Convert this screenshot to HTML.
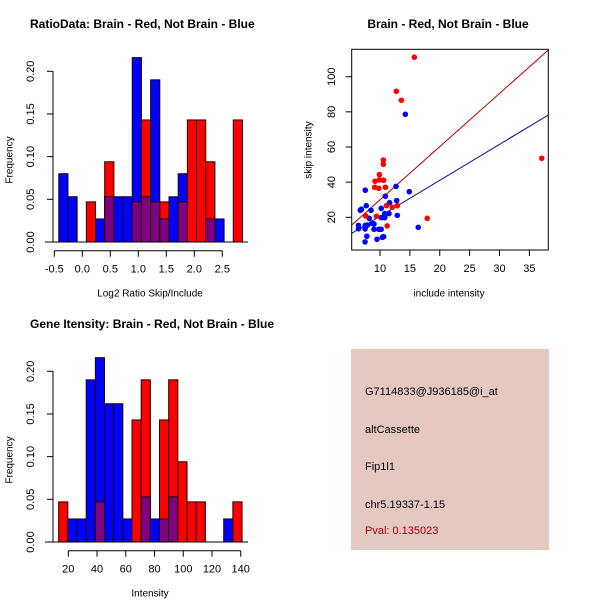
<!DOCTYPE html>
<html><head><meta charset="utf-8"><style>
html,body{margin:0;padding:0;background:#fff}
svg{display:block;font-family:"Liberation Sans",sans-serif}
</style></head><body>
<svg id="c" width="600" height="600" viewBox="0 0 600 600" xmlns="http://www.w3.org/2000/svg"></svg>
<script>
// ---- Top-left histogram: log2 ratio ----
const ratioBinStart = -0.42;
const ratioBinWidth = 0.164;
const ratioBlue = [0.08,0.053,0,0,0.027,0.053,0.053,0.053,0.216,0.053,0.19,0.027,0.053,0.08,0,0,0.027,0.027,0,0];
const ratioRed  = [0,0,0,0.047,0,0.094,0,0,0.047,0.143,0.047,0.047,0,0.047,0.143,0.143,0.094,0,0,0.143];
const ratioTicks = [-0.5,0.0,0.5,1.0,1.5,2.0,2.5];
const ratioTickLabels = ["-0.5","0.0","0.5","1.0","1.5","2.0","2.5"];
const freqTicks = [0,0.05,0.10,0.15,0.20];
const freqTickLabels = ["0.00","0.05","0.10","0.15","0.20"];

// ---- Bottom-left histogram: intensity ----
const intBinStart = 13.3;
const intBinWidth = 6.38;
const intBlue = [0,0.027,0.027,0.19,0.216,0.162,0.162,0.027,0,0.053,0.027,0.027,0.053,0,0,0,0,0,0.027,0];
const intRed  = [0.047,0,0,0,0.047,0,0,0,0.143,0.19,0,0.143,0.19,0.094,0.047,0.047,0,0,0,0.047];
const intTicks = [20,40,60,80,100,120,140];
const intTickLabels = ["20","40","60","80","100","120","140"];

// ---- Scatter ----
const redX = [15.75,12.73,13.57,37.07,10.56,10.56,9.9,9.16,9.9,10.6,9.1,9.8,10.9,7.6,9.4,11.06,12.06,12.9,11.2,17.9];
const redY = [111.1,91.7,86.6,53.6,52.6,50.2,44.3,40.5,41.3,41.1,37.1,36.5,37.1,20.8,20.6,26.6,25.7,26.6,15.1,19.4];
const blueX = [14.24,7.54,12.68,14.9,10.9,6.7,6.9,7.7,8.5,11.6,12.8,10.2,10.8,11.5,12.9,8.2,10.2,10.8,8.66,9.0,6.4,6.4,7.54,7.9,7.5,9.0,9.8,10.2,16.4,7.8,10.4,10.6,9.5,7.5];
const blueY = [78.6,35.4,37.6,34.6,32,24,24.6,26.6,24,28.3,29.5,25.1,22.1,22.1,21.1,19.4,19.8,19.8,16.6,16.2,15.4,13.5,15.4,15.6,13.4,13.2,13.2,13.2,14.3,9.2,8.6,9.0,7.5,6.0];
const redFit = [-0.32, 3.026];   // intercept, slope
const blueFit = [0.14, 2.045];
const scXTicks = [10,15,20,25,30,35];
const scYTicks = [20,40,60,80,100];

const NS="http://www.w3.org/2000/svg";
const svg=document.getElementById('c');
function el(tag,attrs,parent){const e=document.createElementNS(NS,tag);for(const k in attrs)e.setAttribute(k,attrs[k]);(parent||svg).appendChild(e);return e;}
function txt(x,y,s,attrs,parent){const t=el('text',Object.assign({x:x,y:y,'font-size':11,fill:'#000','text-anchor':'middle','dominant-baseline':'central'},attrs||{}),parent);t.textContent=s;return t;}

function hist(g, x0, yBase, yTop, binStart, binWidth, pxPerUnit, xTickAxis, blue, red, ticks, tickLabels, title, xlabel, gy){
  const fy=v=>yBase-(v/0.20)*(yBase-yTop);
  const fx=v=>x0+(v-xTickAxis)*pxPerUnit;
  const t=txt(30,gy+24,title,{'font-weight':'bold','font-size':12,'text-anchor':'start'},g);
  
  
  for(let i=0;i<blue.length;i++){
    const a=fx(binStart+i*binWidth), b=fx(binStart+(i+1)*binWidth);
    if(blue[i]>0){const r=el('rect',{x:a,y:fy(blue[i]),width:b-a,height:yBase-fy(blue[i]),fill:'#0000ff',stroke:'#200000','stroke-width':1},g);
      
      }
    if(red[i]>0){const r=el('rect',{x:a,y:fy(red[i]),width:b-a,height:yBase-fy(red[i]),fill:'#ff0000',stroke:'#200000','stroke-width':1},g);
      
      }
    const m=Math.min(blue[i],red[i]);
    if(m>0){const r=el('rect',{x:a,y:fy(m),width:b-a,height:yBase-fy(m),fill:'#7f0080',stroke:'#200000','stroke-width':1},g);
      
      }
  }
  el('line',{x1:45,y1:yBase,x2:248,y2:yBase,stroke:'#000'},g);
  el('line',{x1:53,y1:fy(0),x2:53,y2:fy(0.20),stroke:'#000'},g);
  freqTicks.forEach((v,i)=>{el('line',{x1:47,y1:fy(v),x2:53,y2:fy(v),stroke:'#000'},g);
    txt(0,0,freqTickLabels[i],{transform:`translate(31,${fy(v)}) rotate(-90)`},g);});
  const yl=txt(0,0,'Frequency',{transform:`translate(10,${gy+160}) rotate(-90)`,'font-size':10},g);
  
  
  const ax=yBase+8.7;
  el('line',{x1:fx(ticks[0]),y1:ax,x2:fx(ticks[ticks.length-1]),y2:ax,stroke:'#000'},g);
  ticks.forEach((v,i)=>{el('line',{x1:fx(v),y1:ax,x2:fx(v),y2:ax+6,stroke:'#000'},g);
    txt(fx(v),ax+19,tickLabels[i],{},g);});
  const xl=txt(150,gy+294,xlabel,{'font-size':10},g);
  
  
}

const g1=el('g',{});


hist(g1,54.3,242,71.3,ratioBinStart,ratioBinWidth,56,-0.5,ratioBlue,ratioRed,ratioTicks,ratioTickLabels,'RatioData: Brain - Red, Not Brain - Blue','Log2 Ratio Skip/Include',0);

const g3=el('g',{});


hist(g3,68.3,542,371.3,intBinStart,intBinWidth,1.437,20,intBlue,intRed,intTicks,intTickLabels,'Gene Itensity: Brain - Red, Not Brain - Blue','Intensity',300);

const g2=el('g',{});


const L=351.7,R=548.3,T=49.3,B=250;
const sx=v=>380+(v-10)*5.975;
const sy=v=>217.3-(v-20)*1.7575;
const xmin=10-(380-L)/5.975, xmax=10+(R-380)/5.975;
const st=txt(448,24,'Brain - Red, Not Brain - Blue',{'font-weight':'bold','font-size':12},g2);


const cp=el('clipPath',{id:'cp'},g2);el('rect',{x:L,y:T,width:R-L,height:B-T},cp);
[[redFit,'#b00000'],[blueFit,'#0000b0']].forEach(([f,c])=>{
  const ln=el('line',{x1:sx(xmin),y1:sy(f[0]+f[1]*xmin),x2:sx(xmax),y2:sy(f[0]+f[1]*xmax),stroke:c,'stroke-width':1,'clip-path':'url(#cp)'},g2);
  
  
});
blueX.forEach((v,i)=>{const p=el('circle',{cx:sx(v),cy:sy(blueY[i]),r:2.8,fill:'#0000ff'},g2);
  
  });
redX.forEach((v,i)=>{const p=el('circle',{cx:sx(v),cy:sy(redY[i]),r:2.8,fill:'#ff0000'},g2);
  
  });
el('rect',{x:L,y:T,width:R-L,height:B-T,fill:'none',stroke:'#000'},g2);
scXTicks.forEach(v=>{el('line',{x1:sx(v),y1:B,x2:sx(v),y2:B+6,stroke:'#000'},g2);txt(sx(v),B+19,String(v),{},g2);});
scYTicks.forEach(v=>{el('line',{x1:L-6,y1:sy(v),x2:L,y2:sy(v),stroke:'#000'},g2);
  txt(0,0,String(v),{transform:`translate(332,${sy(v)}) rotate(-90)`},g2);});
const sxl=txt(449,294,'include intensity',{'font-size':10},g2);


const syl=txt(0,0,'skip intensity',{transform:'translate(309,150) rotate(-90)','font-size':10},g2);



const g4=el('g',{});


el('rect',{x:351,y:349,width:198,height:201,fill:'#e6c8c3'},g4);
const lines=[['G7114833@J936185@i_at',392,'#000'],['altCassette',430,'#000'],['Fip1l1',467,'#000'],['chr5.19337-1.15',505,'#000'],['Pval: 0.135023',531,'#a00000']];
lines.forEach(([s,y,c])=>{const t=txt(365,y,s,{'text-anchor':'start',fill:c,'font-size':11},g4);
  
  });
</script>
</body></html>
